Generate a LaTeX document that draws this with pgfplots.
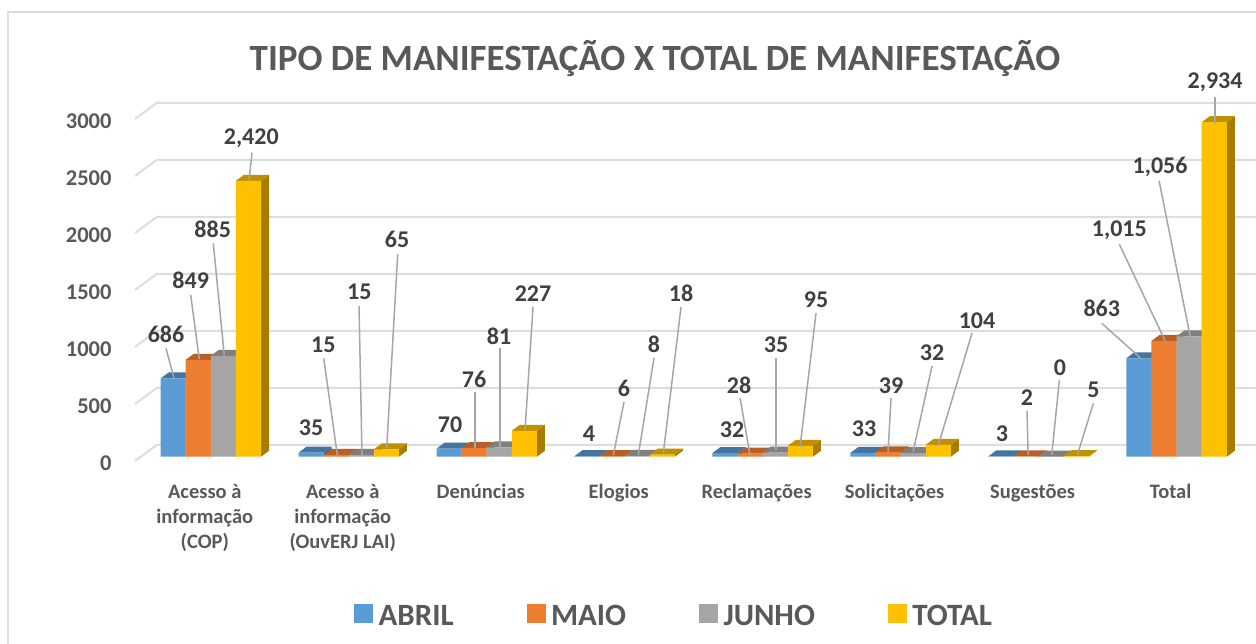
\documentclass[border=0pt]{standalone}
\usepackage{pgfplots}
\usepackage{pgfplotstable}
\usepackage{fontspec}
\setmainfont{Carlito}
\pgfplotsset{compat=1.18}
\definecolor{cA}{HTML}{5B9BD5}\definecolor{cAt}{HTML}{44749F}\definecolor{cAs}{HTML}{3B6590}
\definecolor{cB}{HTML}{ED7D31}\definecolor{cBt}{HTML}{B85F25}\definecolor{cBs}{HTML}{A65520}
\definecolor{cC}{HTML}{A5A5A5}\definecolor{cCt}{HTML}{7F7F7F}\definecolor{cCs}{HTML}{707070}
\definecolor{cD}{HTML}{FFC000}\definecolor{cDt}{HTML}{BF9000}\definecolor{cDs}{HTML}{A67D00}
\definecolor{gridc}{HTML}{DDDDDD}\definecolor{txtc}{HTML}{595959}\definecolor{labc}{HTML}{404040}\definecolor{leadc}{HTML}{A6A6A6}
\pgfplotstableread{
x abril maio junho total
0 686 849 885 2420
1 35 15 15 65
2 70 76 81 227
3 4 6 8 18
4 32 28 35 95
5 33 39 32 104
6 3 2 0 5
7 863 1015 1056 2934
}\data
\def\bw{0.182}\def\dx{0.058}\def\dy{52.6}
\newcommand{\faces}[4]{%
  \pgfplotsforeachungrouped \g in {0,...,7}{%
    \pgfplotstablegetelem{\g}{#1}\of\data
    \pgfmathsetmacro{\val}{\pgfplotsretval}
    \pgfmathsetmacro{\xa}{\g+(#2)*\bw-\bw/2}
    \pgfmathsetmacro{\xb}{\g+(#2)*\bw+\bw/2}
    \pgfmathsetmacro{\xc}{\xa+\dx}
    \pgfmathsetmacro{\xd}{\xb+\dx}
    \pgfmathsetmacro{\yt}{\val+\dy}
    \addplot[fill=#4,draw=none,forget plot] coordinates {(\xb,0) (\xd,\dy) (\xd,\yt) (\xb,\val)};
    \addplot[fill=#3,draw=none,forget plot] coordinates {(\xa,\val) (\xc,\yt) (\xd,\yt) (\xb,\val)};
  }%
}
\newcommand{\lab}[3]{\node[font=\fontsize{24}{24}\selectfont\bfseries,text=labc,inner sep=0pt,yshift=-1.5pt] at (axis cs:{(#1-210.8)/137.96},{(456.7-#2)/0.114}) {#3};}
\newcommand{\lead}[4]{\draw[leadc,line width=1.5pt] (axis cs:{(#1-210.8)/137.96},{(456.7-#2)/0.114}) -- (axis cs:{(#3-210.8)/137.96},{(456.7-#4)/0.114});}
\newcommand{\gl}[1]{\pgfmathsetmacro{\ya}{#1-37.7}\pgfmathsetmacro{\yb}{#1+102.6}\addplot[gridc,line width=2pt,forget plot] coordinates {(-0.5494,\ya) (-0.392,\yb) (7.576,\yb)};}
\begin{document}
\begin{tikzpicture}[x=1pt,y=1pt]
\path[use as bounding box] (0,0) rectangle (1256,644);
\clip (0,0) rectangle (1256,644);
\fill[white] (0,0) rectangle (1256,644);
\draw[gridc,line width=2pt] (8,-5) -- (8,632) -- (1262,632);
\begin{axis}[
  at={(135pt,187.3pt)},anchor=south west,
  scale only axis,width=1121pt,height=342pt,
  xmin=-0.5494,xmax=7.576,ymin=0,ymax=3000,clip=false,
  axis line style={draw=none},tick style={draw=none},
  ytick={0,500,1000,1500,2000,2500,3000},
  yticklabel style={/pgf/number format/1000 sep={},/pgf/number format/assume math mode=true,
    font=\fontsize{22.5}{22.5}\selectfont\bfseries,text=txtc,anchor=east,xshift=-20pt,yshift=-6.5pt},
  xtick={0,...,7},
  xticklabels={{Acesso à\\informação\\(COP)},{Acesso à\\informação\\(OuvERJ LAI)},Denúncias,Elogios,Reclamações,Solicitações,Sugestões,Total},
  xticklabel style={font=\fontsize{20.5}{25}\selectfont\bfseries,text=txtc,align=center,anchor=north,xshift=-6pt,yshift=-24pt},
  title={TIPO DE MANIFESTAÇÃO X TOTAL DE MANIFESTAÇÃO},
  title style={font=\fontsize{37}{37}\selectfont\bfseries,text=txtc,anchor=center,at={(0.5,1)},xshift=-40.5pt,yshift=49.7pt},
  legend style={at={(0.1954,-0.466)},anchor=west,draw=none,fill=none,inner sep=0pt,
    font=\fontsize{31}{31}\selectfont\bfseries,text=txtc,
    legend cell align=left,
    /tikz/every even column/.append style={column sep=71pt},
    /tikz/every odd column/.append style={column sep=4pt}},
  legend columns=4,
  legend image code/.code={\fill[#1] (0pt,-6pt) rectangle (18pt,12pt);},
]
\gl{0}\gl{500}\gl{1000}\gl{1500}\gl{2000}\gl{2500}\gl{3000}
\faces{abril}{-1.5}{cAt}{cAs}
\addplot[ybar,bar width=0.182,bar shift=-0.273,fill=cA,draw=none,forget plot] table[x=x,y=abril]{\data};
\faces{maio}{-0.5}{cBt}{cBs}
\addplot[ybar,bar width=0.182,bar shift=-0.091,fill=cB,draw=none,forget plot] table[x=x,y=maio]{\data};
\faces{junho}{0.5}{cCt}{cCs}
\addplot[ybar,bar width=0.182,bar shift=0.091,fill=cC,draw=none,forget plot] table[x=x,y=junho]{\data};
\faces{total}{1.5}{cDt}{cDs}
\addplot[ybar,bar width=0.182,bar shift=0.273,fill=cD,draw=none,forget plot] table[x=x,y=total]{\data};
\addlegendimage{cA}\addlegendentry{ABRIL}
\addlegendimage{cB}\addlegendentry{MAIO}
\addlegendimage{cC}\addlegendentry{JUNHO}
\addlegendimage{cD}\addlegendentry{TOTAL}
\lead{166}{348.3}{174}{378.3}\lab{166}{333.3}{686}
\lead{190.7}{295}{199.3}{359.3}\lab{190.7}{279.3}{849}
\lead{213.3}{243.3}{224.3}{355.7}\lab{212.7}{228.3}{885}
\lead{252}{152.7}{249}{180.7}\lab{251.3}{136.7}{2,420}
\lab{311}{426.7}{35}
\lead{323.7}{358.3}{337.3}{455}\lab{323.3}{343.3}{15}
\lead{359}{306}{362}{455}\lab{359.3}{290}{15}
\lead{397.7}{254}{386.7}{448.3}\lab{397}{237.7}{65}
\lab{450}{423}{70}
\lead{475}{392}{475}{447.7}\lab{474}{378}{76}
\lead{500}{348}{500}{447}\lab{499}{335}{81}
\lead{533}{307}{525}{430}\lab{533}{292}{227}
\lab{589}{432}{4}
\lead{624}{402}{613.3}{455}\lab{624}{387}{6}
\lead{654}{358}{638.3}{455}\lab{654}{343}{8}
\lead{681}{307}{663.3}{453}\lab{681}{292}{18}
\lab{732}{428}{32}
\lead{740}{398}{750}{455}\lab{739}{384}{28}
\lead{776}{358}{776}{450}\lab{776}{343}{35}
\lead{816}{313}{800}{447}\lab{816}{298}{95}
\lab{864}{427}{33}
\lead{891}{398}{888}{452}\lab{891}{384}{39}
\lead{932}{366}{913}{452}\lab{932}{351}{32}
\lead{972}{333}{938}{446}\lab{977}{319}{104}
\lab{1002}{432}{3}
\lead{1027}{411}{1028}{455}\lab{1027}{396}{2}
\lead{1059.3}{380}{1051.7}{455}\lab{1060}{366}{0}
\lead{1093.3}{403.3}{1077.3}{455}\lab{1093.3}{388.3}{5}
\lead{1101.7}{323.3}{1140}{357.7}\lab{1101.7}{306.7}{863}
\lead{1119.3}{244.3}{1165}{340.7}\lab{1119.3}{229}{1,015}
\lead{1159}{180.7}{1190}{336}\lab{1160}{165}{1,056}
\lead{1215}{97.3}{1215}{122.7}\lab{1215}{81}{2,934}
\end{axis}
\end{tikzpicture}
\end{document}
